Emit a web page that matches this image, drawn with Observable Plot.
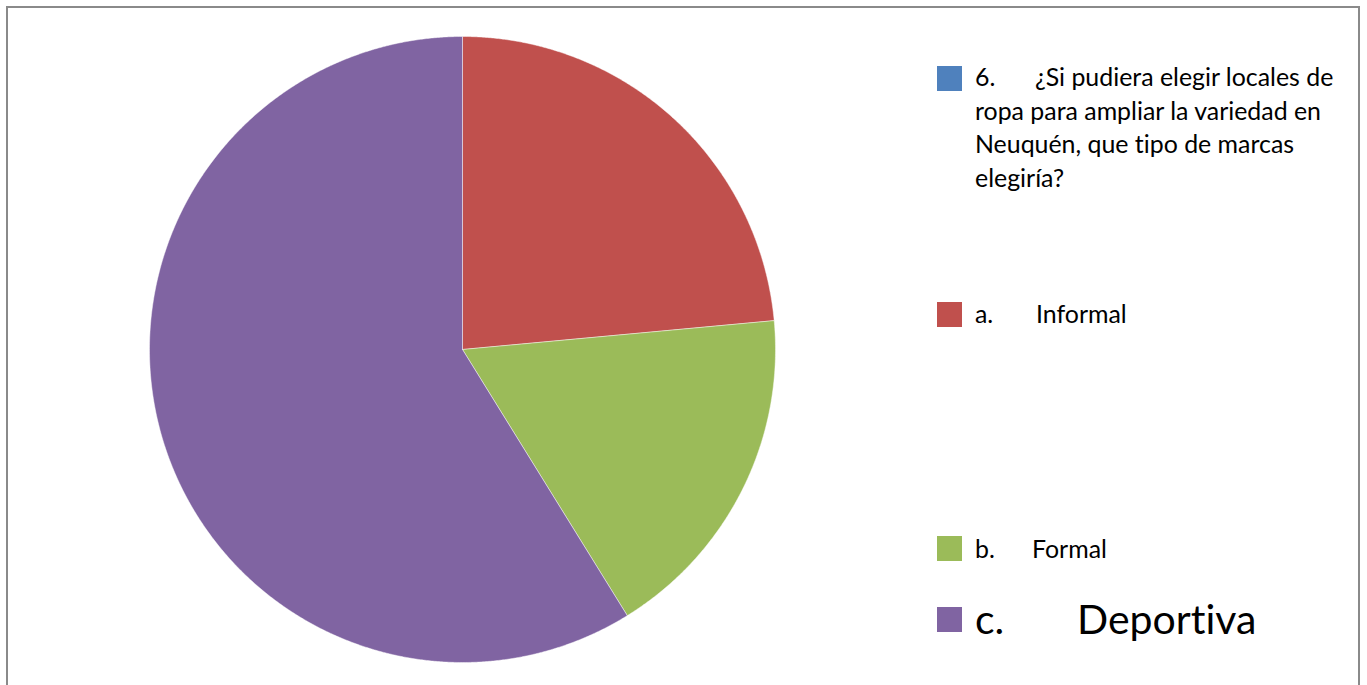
<!DOCTYPE html>
<html>
<head>
<meta charset="utf-8">
<script src="https://cdn.jsdelivr.net/npm/d3@7"></script>
<script src="https://cdn.jsdelivr.net/npm/@observablehq/plot@0.6"></script>
<style>
  html, body { margin: 0; padding: 0; background: #fff; }
  #wrap { position: relative; width: 1367px; height: 685px; overflow: hidden; font-family: Lato, "Open Sans", sans-serif; color: #000; font-variant-ligatures: none; }
  #frame { position: absolute; left: 6px; top: 6px; width: 1354px; height: 700px; border: 2px solid #8a8a8a; box-sizing: border-box; }
  #chart { position: absolute; left: 0; top: 0; }
  .item { position: absolute; left: 937px; }
  .sw { position: absolute; left: 0; width: 25px; height: 25px; }
  .txt { position: absolute; left: 38px; font-size: 24.5px; line-height: 33.5px; white-space: nowrap; }
  .pre { display: inline-block; }
</style>
</head>
<body>
<div id="wrap">
  <div id="frame"></div>
  <div id="chart"></div>
  <div id="legend"></div>
</div>
<script>
// Data
const labels = ["6.\t¿Si pudiera elegir locales de ropa para ampliar la variedad en Neuquén, que tipo de marcas elegiría?", "a.\tInformal", "b.\tFormal", "c.\tDeportiva"];
const values = [0, 4, 3, 10];
const colors = ["#4F81BD", "#C0504D", "#9BBB59", "#8064A2"];

const data = labels.map((l, i) => ({label: l, value: values[i], color: colors[i]}));
const arcs = d3.pie().sort(null).value(d => d.value)(data);

// Build polygon outlines from the pie angles (unit radius)
const pts = [];
arcs.forEach((a, i) => {
  if (a.endAngle - a.startAngle <= 0) return;
  const n = Math.max(2, Math.ceil((a.endAngle - a.startAngle) / 0.005));
  pts.push({k: i, x: 0, y: 0, color: a.data.color});
  for (let j = 0; j <= n; j++) {
    const t = a.startAngle + (a.endAngle - a.startAngle) * j / n;
    pts.push({k: i, x: Math.sin(t), y: Math.cos(t), color: a.data.color});
  }
  pts.push({k: i, x: 0, y: 0, color: a.data.color});
});

const cx = 462, cy = 349, r = 313;
const chart = Plot.plot({
  width: 1367,
  height: 685,
  margin: 0,
  x: {domain: [-1, 1], range: [cx - r, cx + r], axis: null},
  y: {domain: [-1, 1], range: [cy + r, cy - r], axis: null},
  color: {type: "identity"},
  style: {background: "transparent", overflow: "visible"},
  marks: [
    Plot.line(pts, {x: "x", y: "y", z: "k", fill: "color", stroke: "white", strokeWidth: 1, strokeOpacity: 0.45, curve: "linear"})
  ]
});
document.getElementById("chart").appendChild(chart);

// Legend (HTML overlay)
const legendLines = [
  ["¿Si pudiera elegir locales de", "ropa para ampliar la variedad en", "Neuquén, que tipo de marcas", "elegiría?"],
  ["Informal"], ["Formal"], ["Deportiva"]
];
const swTop = [66, 302, 536, 607];
const txtTop = [60, 297, 532, 593];
const preW = [60, 61, 57, 102];
const fs = [24.9, 24.9, 24.9, 41];
const lh = [33.5, 33.5, 33.5, 52];
const leg = document.getElementById("legend");
data.forEach((d, i) => {
  const [pre] = d.label.split("\t");
  const item = document.createElement("div");
  item.className = "item";
  item.style.top = "0px";
  const sw = document.createElement("div");
  sw.className = "sw";
  sw.style.top = swTop[i] + "px";
  sw.style.background = d.color;
  item.appendChild(sw);
  const tx = document.createElement("div");
  tx.className = "txt";
  tx.style.top = txtTop[i] + "px";
  tx.style.fontSize = fs[i] + "px";
  tx.style.lineHeight = lh[i] + "px";
  legendLines[i].forEach((line, j) => {
    const row = document.createElement("div");
    if (j === 0) {
      const p = document.createElement("span");
      p.className = "pre";
      p.style.width = preW[i] + "px";
      p.textContent = pre;
      row.appendChild(p);
    }
    row.appendChild(document.createTextNode(line));
    tx.appendChild(row);
  });
  item.appendChild(tx);
  leg.appendChild(item);
});
</script>
</body>
</html>
